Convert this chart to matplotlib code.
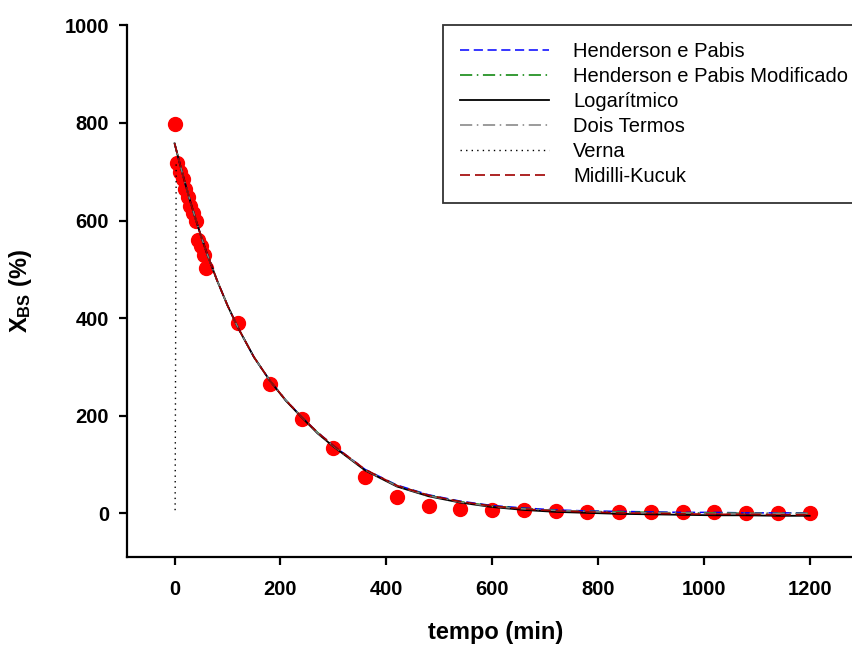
import matplotlib
matplotlib.use("Agg")
import matplotlib.pyplot as plt

plt.rcParams['font.family'] = ['Liberation Sans', 'DejaVu Sans']
plt.rcParams['mathtext.fontset'] = 'custom'
plt.rcParams['mathtext.rm'] = 'Liberation Sans'
plt.rcParams['mathtext.bf'] = 'Liberation Sans:bold'

# Observed data
t_obs = [0, 5, 10, 15, 20, 25, 30, 35, 40, 45, 50, 55, 60,
         120, 180, 240, 300, 360, 420, 480, 540, 600, 660, 720,
         780, 840, 900, 960, 1020, 1080, 1140, 1200]
x_obs = [797, 717, 700, 685, 665, 648, 630, 615, 600, 560, 548, 530, 503,
         391, 266, 193, 133, 74, 33, 15, 9, 6, 6, 5,
         3, 2, 2, 2, 2, 1, 1, 0]

# Model curves
t_mod = [0, 10, 20, 30, 40, 50, 60, 80, 100, 120, 150, 180, 210, 240, 270,
         300, 360, 420, 480, 540, 600, 660, 720, 780, 840, 900, 960, 1020,
         1080, 1140, 1200]
henderson = [758, 716, 676, 638, 602, 568, 536, 478, 426, 380, 320, 272, 232,
             198, 166, 139, 90, 58, 38, 25, 16, 11, 7, 5, 4, 3, 2, 2, 1, 1, 1]
henderson_mod = [758, 716, 676, 638, 602, 568, 536, 478, 426, 380, 320, 272, 232,
                 198, 166, 138, 89, 57, 37, 24, 15, 10, 6, 4, 3, 2, 1, 1, 0, 0, 0]
logaritmico = [758, 716, 676, 638, 602, 568, 536, 478, 426, 380, 320, 272, 231,
               197, 164, 137, 88, 55, 35, 22, 13, 7, 3, 1, -1, -2, -3, -4, -4, -5, -5]
dois_termos = [758, 716, 676, 638, 602, 568, 536, 478, 426, 380, 320, 272, 232,
               198, 165, 138, 89, 56, 36, 23, 14, 9, 6, 4, 2, 1, 1, 0, 0, 0, 0]
verna_t = [3, 1]
verna_x = [715, 0]
midilli = [758, 716, 676, 638, 602, 568, 536, 478, 426, 380, 320, 272, 232,
           198, 166, 139, 90, 57, 37, 24, 15, 9, 5, 3, 1, 0, -1, -2, -2, -3, -3]

fig = plt.figure(figsize=(8.52, 6.48), dpi=100)
ax = fig.add_axes([0.149, 0.140, 0.851, 0.821])

ax.plot(t_obs, x_obs, 'o', color='#ff0000', markersize=10, zorder=2)

l1, = ax.plot(t_mod, henderson, color='blue', linestyle=(0, (6, 3)), lw=1.1, zorder=3,
              label='Henderson e Pabis')
l2, = ax.plot(t_mod, henderson_mod, color='green', linestyle=(0, (8, 3, 1, 3)), lw=1.1, zorder=3,
              label='Henderson e Pabis Modificado')
l3, = ax.plot(t_mod, logaritmico, color='black', linestyle='-', lw=1.3, zorder=3,
              label='Logarítmico')
l4, = ax.plot(t_mod, dois_termos, color='gray', linestyle=(0, (8, 3, 1, 3)), lw=1.1, zorder=3,
              label='Dois Termos')
l5, = ax.plot(verna_t, verna_x, color='black', linestyle=(0, (1, 3)), lw=1.0, zorder=3,
              label='Verna')
l6, = ax.plot(t_mod, midilli, color='#a00000', linestyle=(0, (6, 3)), lw=1.2, zorder=3,
              label='Midilli-Kucuk')

ax.set_xlim(-90, 1280)
ax.set_ylim(-90, 1000)
ax.set_xticks([0, 200, 400, 600, 800, 1000, 1200])
ax.set_yticks([0, 200, 400, 600, 800, 1000])

for s in ['top', 'right']:
    ax.spines[s].set_visible(False)
for s in ['left', 'bottom']:
    ax.spines[s].set_linewidth(1.6)

ax.tick_params(direction='out', length=6, width=1.6, labelsize=14.5)
ax.tick_params(axis='x', pad=10)
ax.tick_params(axis='y', pad=7)
for lab in ax.get_xticklabels() + ax.get_yticklabels():
    lab.set_fontweight('bold')

ax.set_xlabel('tempo (min)', fontsize=17, fontweight='bold')
ax.xaxis.set_label_coords(0.508, -0.12)
ax.set_ylabel(r'$\mathbf{X_{BS}}$ (%)', fontsize=17, fontweight='bold')
ax.yaxis.set_label_coords(-0.128, 0.5)

leg = fig.legend(handles=[l1, l2, l3, l4, l5, l6], loc='upper left',
                 bbox_to_anchor=(443 / 852, 0.962), fontsize=14.5, frameon=True,
                 fancybox=False, edgecolor='black', handlelength=4.4,
                 handletextpad=1.2, borderpad=0.85, labelspacing=0.3,
                 borderaxespad=0)
leg.get_frame().set_linewidth(1.3)

fig.savefig('out.png', dpi=100)
